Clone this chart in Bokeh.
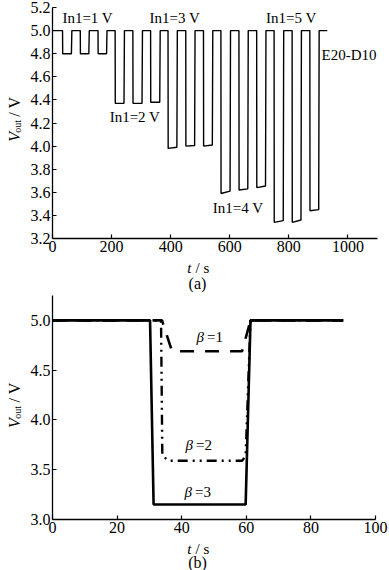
import math
from bokeh.plotting import figure
from bokeh.models import Label, Range1d, FixedTicker
from bokeh.layouts import column, row
from bokeh.embed import file_html
from bokeh.resources import INLINE

FONT = "Liberation Serif"

# ---------------- Panel (a) data ----------------
a_dip_start = [34, 94, 154, 212, 272, 332, 391, 451, 511, 570, 631, 691, 750, 811, 871]
a_dip_end = [64, 123, 183, 242, 303, 363, 421, 481, 541, 601, 661, 721, 781, 841, 901]
a_low_start = [4.80, 4.80, 4.80, 4.37, 4.37, 4.38, 3.98, 4.00, 4.00, 3.59, 3.62, 3.64, 3.34, 3.34, 3.44]
a_low_end = [4.80, 4.80, 4.80, 4.37, 4.37, 4.38, 3.99, 4.005, 4.01, 3.61, 3.63, 3.655, 3.355, 3.36, 3.45]
a_high = 5.0
a_t_first = 0
a_t_last = 930
a_xticks = [0, 200, 400, 600, 800, 1000]
a_yticks = [3.2, 3.4, 3.6, 3.8, 4.0, 4.2, 4.4, 4.6, 4.8, 5.0, 5.2]
a_notes = ["In1=1 V", "In1=3 V", "In1=5 V", "In1=2 V", "In1=4 V"]
a_notes_t = [119, 414, 808, 279, 628]
a_notes_v = [5.11, 5.11, 5.11, 4.25, 3.46]
a_series_name = "E20-D10"
a_series_v = 4.79

# ---------------- Panel (b) data ----------------
b1_t = [0, 33.9, 37.0, 58.7, 61.3, 90]
b1_v = [5.0, 5.0, 4.69, 4.69, 5.0, 5.0]
b2_t = [0, 33.6, 34.0, 36.0, 58.7, 59.8, 61.3, 90]
b2_v = [5.0, 5.0, 3.64, 3.59, 3.59, 3.64, 5.0, 5.0]
b3_t = [0, 30.2, 31.3, 59.8, 61.3, 90]
b3_v = [5.0, 5.0, 3.15, 3.15, 5.0, 5.0]
b_xticks = [0, 20, 40, 60, 80, 100]
b_yticks = [3.0, 3.5, 4.0, 4.5, 5.0]
b_beta = ["1", "2", "3"]
b_beta_t = [47.2, 43.8, 43.5]
b_beta_v = [4.83, 3.75, 3.28]

TOTAL_W = 389
YLAB_W = 26


def style(p, xticks, yticks):
    p.outline_line_color = None
    p.xgrid.grid_line_color = None
    p.ygrid.grid_line_color = None
    p.background_fill_color = "white"
    p.border_fill_color = "white"
    for ax in (p.xaxis[0], p.yaxis[0]):
        ax.axis_line_color = "black"
        ax.axis_line_width = 1.3
        ax.major_tick_line_color = "black"
        ax.major_tick_line_width = 1.2
        ax.major_tick_in = 4
        ax.major_tick_out = 0
        ax.minor_tick_line_color = None
        ax.major_label_text_font = FONT
        ax.major_label_text_font_size = "16px"
        ax.major_label_text_color = "black"
    p.xaxis[0].ticker = FixedTicker(ticks=xticks)
    p.yaxis[0].ticker = FixedTicker(ticks=yticks)
    p.xaxis[0].major_label_standoff = 2
    p.yaxis[0].major_label_standoff = 2
    p.yaxis[0].major_label_overrides = {t: "{:.1f}".format(t) for t in yticks}


def lab(p, text, x, y, size="15px", style_="normal", align="center",
        baseline="middle", angle=0.0, xo=0, yo=0):
    p.add_layout(Label(x=x, y=y, text=text,
                       text_font=FONT, text_font_size=size, text_font_style=style_,
                       text_align=align, text_baseline=baseline, angle=angle,
                       x_offset=xo, y_offset=yo, text_color="black"))


def text_fig(w, h):
    f = figure(width=w, height=h, x_range=Range1d(0, w), y_range=Range1d(0, h),
               x_axis_type=None, y_axis_type=None, output_backend="svg",
               toolbar_location=None, min_border=0,
               min_border_left=0, min_border_right=0, min_border_top=0, min_border_bottom=0)
    f.outline_line_color = None
    f.background_fill_color = "white"
    f.border_fill_color = "white"
    f.xgrid.grid_line_color = None
    f.ygrid.grid_line_color = None
    return f


def ylabel_fig(h, y_start):
    f = text_fig(YLAB_W, h)
    cx = 14
    lab(f, "V", cx, y_start, size="16px", style_="italic", align="left", angle=math.pi / 2)
    lab(f, "out", cx + 3, y_start + 10, size="10px", align="left", angle=math.pi / 2)
    lab(f, "/ V", cx, y_start + 28, size="16px", align="left", angle=math.pi / 2)
    return f


def caption_fig(h, y_axis_lab, y_cap, cap):
    f = text_fig(TOTAL_W, h)
    cx = 196
    lab(f, "t", cx - 5, y_axis_lab, size="15px", style_="italic", align="right")
    lab(f, "/ s", cx - 1, y_axis_lab, size="15px", align="left")
    lab(f, cap, cx + 1, y_cap, size="16px")
    return f


# ---------------- Figure (a) ----------------
HA = 258
p1 = figure(width=TOTAL_W - YLAB_W, height=HA, x_range=Range1d(0, 1100), y_range=Range1d(3.2, 5.2),
            output_backend="svg", toolbar_location=None,
            min_border_left=52 - YLAB_W, min_border_right=12, min_border_top=7, min_border_bottom=20)
style(p1, a_xticks, a_yticks)

ts = [a_t_first]
vs = [a_high]
for s, e, ls, le in zip(a_dip_start, a_dip_end, a_low_start, a_low_end):
    ts += [s, s + 0.5, e, e + 1.5]
    vs += [a_high, ls, le, a_high]
ts.append(a_t_last)
vs.append(a_high)
p1.line(ts, vs, line_color="black", line_width=1.4)

for txt, t, v in zip(a_notes, a_notes_t, a_notes_v):
    lab(p1, txt, t, v)
lab(p1, a_series_name, 1100, a_series_v, align="right", xo=-1)

ya = ylabel_fig(HA, HA - 150)
cap_a = caption_fig(292 - HA, 25, 9, "(a)")

# ---------------- Figure (b) ----------------
HB = 247
p2 = figure(width=TOTAL_W - YLAB_W, height=HB, x_range=Range1d(0, 100), y_range=Range1d(3.0, 5.25),
            output_backend="svg", toolbar_location=None,
            min_border_left=52 - YLAB_W, min_border_right=14, min_border_top=3, min_border_bottom=20)
style(p2, b_xticks, b_yticks)

p2.line(b1_t, b1_v, line_color="black", line_width=2.6, line_dash="14 11")
p2.line(b2_t, b2_v, line_color="black", line_width=2.4, line_dash="10 5 2 5 2 5")
p2.line(b3_t, b3_v, line_color="black", line_width=2.6)

for b, t, v in zip(b_beta, b_beta_t, b_beta_v):
    lab(p2, "\u03b2", t, v, style_="italic", align="right", xo=-1)
    lab(p2, "=" + b, t, v, align="left", xo=2)

yb = ylabel_fig(HB, 539 - 438)
cap_b = caption_fig(570 - 292 - HB, 22, 8, "(b)")

layout = column(row(ya, p1), cap_a, row(yb, p2), cap_b)
open("out.html", "w").write(file_html(layout, INLINE))
